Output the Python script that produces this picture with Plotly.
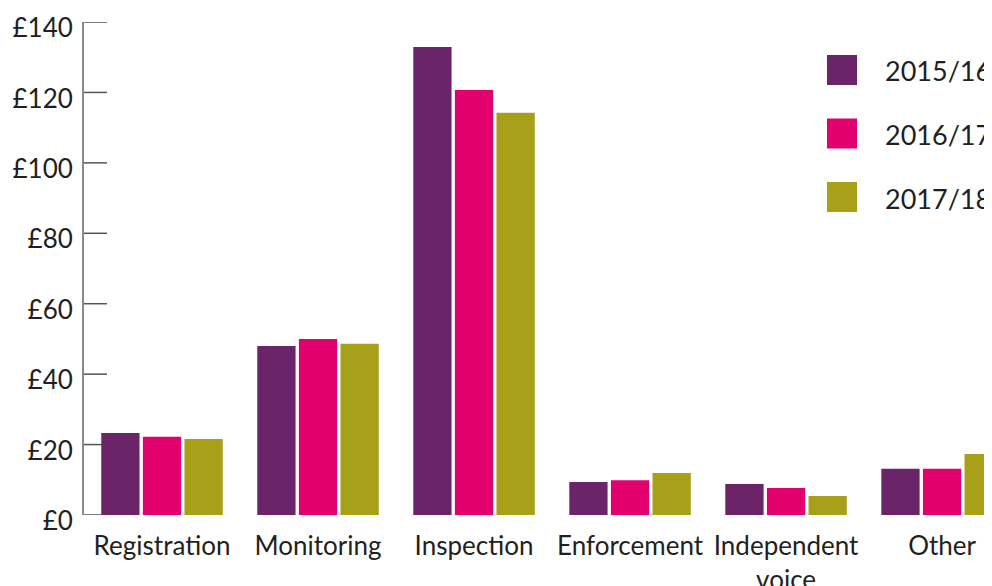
import plotly.graph_objects as go

categories = ["Registration", "Monitoring", "Inspection", "Enforcement", "Independent<br>voice", "Other"]
series_names = ["2015/16", "2016/17", "2017/18"]
values_2015 = [23.3, 48.0, 132.9, 9.4, 8.8, 13.1]
values_2016 = [22.2, 50.0, 120.7, 9.9, 7.7, 13.1]
values_2017 = [21.6, 48.6, 114.2, 11.9, 5.4, 17.3]
colors = ["#6C2469", "#E2006F", "#A9A01A"]
y_ticks = [0, 20, 40, 60, 80, 100, 120, 140]
y_ticktext = ["£" + str(v) for v in y_ticks]

# page body has an 8px default margin; size the figure to fit the 992x586 window
OFF = 8
W, H = 992 - OFF, 586 - OFF
ML, MR, MT = 84 - OFF, 0, 22 - OFF
MB = H - (515 - OFF)
FONT = "Lato"
TXT = "#231f20"

fig = go.Figure()
for name, vals, col in zip(series_names, [values_2015, values_2016, values_2017], colors):
    fig.add_trace(go.Bar(x=categories, y=vals, name=name, marker=dict(color=col, line=dict(width=0)),
                         showlegend=False, hoverinfo="x+y"))

pw = W - ML - MR
ph = H - MT - MB
def px(x):
    return (x - OFF - ML) / pw
def py(y):
    return (H - MB - (y - OFF)) / ph

# inward tick marks at each y tick value (drawn beneath the bars)
for v in y_ticks:
    fig.add_shape(type="line", xref="paper", yref="y", x0=0, x1=23 / pw, y0=v, y1=v,
                  line=dict(color="#555555", width=1.5), layer="below")

# manual legend (large square swatches), positions in screen pixels
legend_tops = [55, 118.5, 182]
for name, col, top in zip(series_names, colors, legend_tops):
    fig.add_shape(type="rect", xref="paper", yref="paper",
                  x0=px(827), x1=px(857), y0=py(top + 30), y1=py(top),
                  fillcolor=col, line=dict(width=0))
    fig.add_annotation(xref="paper", yref="paper", x=px(883), y=py(top + 16),
                       text=name, showarrow=False, xanchor="left", yanchor="middle",
                       font=dict(family=FONT, size=27, color=TXT))

fig.update_layout(
    width=W, height=H,
    margin=dict(l=ML, r=MR, t=MT, b=MB, pad=0, autoexpand=False),
    plot_bgcolor="white", paper_bgcolor="white",
    barmode="group", bargap=0.2, bargroupgap=0.08,
    font=dict(family=FONT, size=26, color=TXT),
    xaxis=dict(range=[-0.5, 5.32], showline=False, ticks="", showgrid=False, zeroline=False,
               automargin=False,
               tickfont=dict(family=FONT, size=26, color=TXT), ticklabelstandoff=13),
    yaxis=dict(range=[0, 140], tickvals=y_ticks, ticktext=y_ticktext, showgrid=False, zeroline=False,
               automargin=False,
               showline=True, linecolor="#8a8a8a", linewidth=2, ticks="",
               tickfont=dict(family=FONT, size=26, color=TXT), ticklabelstandoff=4,
               ticklabelshift=6, ticklabeloverflow="allow",
               layer="below traces"),
)

fig.write_html("out.html")
